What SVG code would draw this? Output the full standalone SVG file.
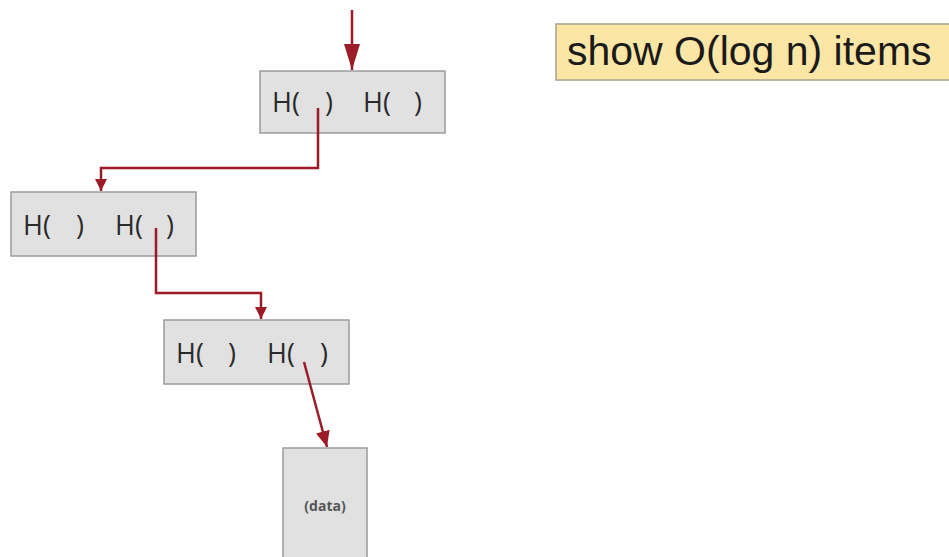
<svg xmlns="http://www.w3.org/2000/svg" width="949" height="557" viewBox="0 0 949 557">
<style>
.box{fill:#e1e1e1;stroke:#9a9a9a;stroke-width:1.5}
.h{font-family:"Open Sans","DejaVu Sans",sans-serif;font-size:27px;fill:#2a2a2a}
.c{fill:none;stroke:#9b1b26;stroke-width:2.5}
</style>
<defs>
<marker id="ah" markerUnits="userSpaceOnUse" markerWidth="14" markerHeight="14" refX="12" refY="6" orient="auto"><path d="M0,0 L12,6 L0,12 z" fill="#9b1b26"/></marker>
<marker id="ahMid" markerUnits="userSpaceOnUse" markerWidth="18" markerHeight="16" refX="16" refY="7" orient="auto"><path d="M0,0 L16,7 L0,14 z" fill="#9b1b26"/></marker>
<marker id="ahBig" markerUnits="userSpaceOnUse" markerWidth="28" markerHeight="20" refX="26" refY="8" orient="auto"><path d="M0,0 L26,8 L0,16 z" fill="#9b1b26"/></marker>
</defs>
<rect width="949" height="557" fill="#ffffff"/>
<g id="node1">
<rect class="box" x="260" y="71" width="185" height="62"/>
<text class="h" x="272" y="112">H(</text><text class="h" x="325" y="112">)</text>
<text class="h" x="363" y="112">H(</text><text class="h" x="414" y="112">)</text>
</g>
<g id="node2">
<rect class="box" x="11" y="192" width="185" height="64"/>
<text class="h" x="23" y="235">H(</text><text class="h" x="76" y="235">)</text>
<text class="h" x="115" y="235">H(</text><text class="h" x="166" y="235">)</text>
</g>
<g id="node3">
<rect class="box" x="164" y="320" width="185" height="64"/>
<text class="h" x="176" y="363">H(</text><text class="h" x="228" y="363">)</text>
<text class="h" x="267" y="363">H(</text><text class="h" x="320" y="363">)</text>
</g>
<g id="data">
<rect class="box" x="283" y="448" width="84" height="115"/>
<text x="325" y="511" text-anchor="middle" font-family="'Open Sans','DejaVu Sans',sans-serif" font-size="14" font-weight="bold" fill="#555">(data)</text>
</g>
<g id="note">
<rect x="556" y="24" width="400" height="56" fill="#fbe6a6" stroke="#a8a08a" stroke-width="1.5"/>
<text x="567" y="65" font-family="'Liberation Sans',Arial,sans-serif" font-size="41" fill="#1a1a1a">show O(log n) items</text>
</g>
<g id="connectors">
<path class="c" d="M352,10 V70" marker-end="url(#ahBig)"/>
<path class="c" d="M318,108 V168 H101 V191" marker-end="url(#ah)"/>
<path class="c" d="M156,228 V293 H261 V319" marker-end="url(#ah)"/>
<path class="c" d="M304,362 L327,447" marker-end="url(#ahMid)"/>
</g>
</svg>
